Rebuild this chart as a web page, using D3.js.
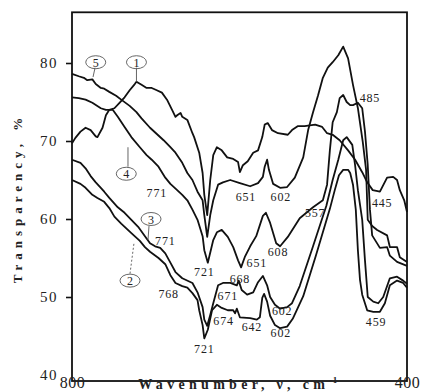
<!DOCTYPE html>
<html><head><meta charset="utf-8">
<script src="https://cdn.jsdelivr.net/npm/d3@7"></script>
<style>body{margin:0;background:#fff}svg{display:block}</style>
</head><body>
<svg id="c" width="426" height="392"></svg>
<script>
// ---- data: [wavenumber cm-1, transparency %] ----
const curve1 = [[800,69.7],[798,70.4],[795,71.2],[792,71.7],[789,71.4],[786,70.6],[785,70.5],[782,71.7],[780,73.3],[778,74.0],[775,74.2],[772,74.9],[769,75.6],[766,76.5],[763,77.3],[762,77.6],[759,77.2],[756,76.8],[753,76.8],[750,76.5],[747,76.2],[744,75.3],[741,74.0],[739,73.1],[738,73.3],[736,73.6],[735,73.1],[732,72.7],[729,71.0],[728,70.5],[725,68.5],[723,65.9],[722,63.1],[719,60.5],[714,65.0],[709,68.2],[703,69.2],[695,68.8],[686,67.9],[676,67.7],[668,67.3],[665,66.0],[660,66.9],[652,67.4],[643,68.5],[635,68.8],[628,70.5],[624,72.1],[619,72.3],[612,71.4],[602,71.0],[588,70.8],[582,71.4],[574,71.9],[564,71.9],[549,72.1],[539,71.8],[532,71.0],[524,70.8],[514,70.1],[502,68.8],[492,67.6],[481,66.0],[472,64.7],[462,63.7],[449,63.5],[436,65.3],[425,65.4],[418,65.0],[413,63.7],[405,62.4],[400,60.9]];
const curve2 = [[800,65.0],[795,64.5],[792,64.0],[788,63.1],[785,62.7],[781,62.2],[778,61.4],[775,60.3],[771,59.4],[765,58.2],[760,57.2],[757,56.4],[754,55.8],[749,55.0],[745,54.2],[742,52.8],[739,51.8],[735,51.4],[732,51.2],[729,50.5],[726,49.6],[725,48.3],[723,46.4],[722,44.7],[718,45.8],[711,48.3],[703,49.0],[695,48.6],[685,48.3],[676,48.3],[673,47.9],[670,48.5],[665,47.4],[648,47.3],[637,47.1],[632,47.4],[628,49.9],[625,50.4],[620,49.4],[615,47.6],[607,46.4],[599,46.0],[589,46.2],[581,47.2],[566,50.1],[548,55.3],[528,61.3],[521,63.7],[515,65.6],[509,66.3],[502,66.3],[499,65.9],[495,64.4],[491,61.2],[488,56.0],[485,52.2],[481,50.3],[472,48.3],[461,48.1],[449,48.1],[440,49.2],[431,51.5],[418,52.1],[407,51.8],[400,51.2]];
const curve3 = [[800,67.6],[795,67.2],[792,66.5],[789,65.5],[786,64.7],[783,64.0],[781,63.5],[778,62.7],[773,61.5],[769,60.8],[765,59.9],[761,59.0],[757,57.8],[754,56.9],[751,56.5],[748,56.3],[745,55.6],[742,54.4],[739,53.2],[735,52.4],[729,51.8],[726,50.6],[723,48.7],[722,47.1],[719,46.3],[714,47.7],[709,49.2],[701,51.5],[693,51.8],[681,51.8],[670,51.5],[667,52.1],[662,50.9],[653,50.3],[643,50.6],[635,51.9],[627,52.7],[620,51.5],[615,50.0],[607,49.0],[599,48.5],[589,48.7],[582,49.2],[571,51.4],[552,56.5],[533,61.7],[524,65.0],[516,67.6],[509,70.1],[504,70.5],[496,69.5],[492,66.9],[488,63.7],[481,59.9],[476,54.7],[471,50.0],[461,49.4],[452,49.2],[443,50.0],[431,52.4],[418,52.6],[407,52.1],[400,51.7]];
const curve4 = [[800,75.6],[796,75.5],[792,75.3],[788,74.9],[783,74.2],[780,74.0],[776,74.0],[773,73.1],[769,71.8],[765,70.5],[760,69.2],[756,68.2],[753,67.6],[749,66.7],[745,65.3],[742,64.5],[738,63.7],[735,63.1],[732,62.4],[729,61.2],[726,59.9],[723,57.8],[722,56.0],[718,54.4],[709,57.3],[703,58.3],[695,58.6],[685,57.7],[676,56.4],[668,54.7],[663,53.8],[657,55.1],[648,56.5],[638,57.8],[627,60.4],[622,60.8],[615,59.5],[605,56.9],[599,56.5],[588,57.7],[571,60.1],[552,61.5],[538,62.4],[532,64.4],[528,68.8],[524,72.4],[518,73.7],[514,75.5],[509,75.9],[504,75.0],[499,74.6],[495,74.6],[488,74.9],[481,74.2],[476,71.2],[471,66.9],[467,61.2],[463,57.9],[449,56.3],[436,56.4],[431,55.3],[418,54.5],[400,54.0]];
const curve5 = [[800,78.6],[796,78.3],[793,78.1],[791,77.8],[788,77.9],[786,77.3],[783,76.8],[781,76.7],[778,76.3],[774,75.8],[771,75.3],[766,74.5],[762,73.7],[759,72.9],[754,71.7],[750,70.9],[746,70.1],[742,69.2],[739,68.5],[735,67.2],[732,65.9],[729,65.0],[726,63.5],[723,62.4],[722,60.5],[719,57.7],[714,60.5],[709,62.4],[701,64.4],[693,64.7],[681,65.0],[665,64.6],[648,64.2],[635,64.6],[627,65.4],[624,66.7],[620,67.6],[617,66.3],[610,64.5],[599,64.0],[589,64.1],[578,65.3],[566,67.9],[559,71.4],[552,73.7],[545,75.8],[538,78.1],[531,79.4],[524,80.1],[516,81.0],[509,82.1],[502,80.6],[495,77.2],[488,74.2],[480,69.9],[474,66.3],[471,59.9],[463,59.1],[454,58.6],[436,57.9],[431,56.4],[418,56.4],[413,55.1],[400,54.5]];
const seriesNames = ["1","2","3","4","5"];

const yTicks = [80,70,60,50,40];
const xTicks = [800,400];
const yTitle = "Transparency, %";

// band labels: text, wavenumber, transparency
const bandLabels = [
  ["771",750,62.8],["771",745,56.7],["768",743,49.9],["721",722,52.7],["721",722,42.8],
  ["651",655,62.3],["602",598,62.3],["651",637,53.8],["668",665,51.8],["671",685,49.6],
  ["674",692,46.4],["642",645,45.6],["602",598,44.9],["602",596,47.7],["608",602,55.3],
  ["557",549,60.3],["485",467,75.0],["445",445,61.5],["459",456,46.3]
];
// curve number tags: number, tag centre (w,v), leader from (w,v) to (w,v), dashed
const curveTags = [
  ["5",786,80.1,786.4,79.4,787.6,78.2,false],
  ["1",762,80.1,762,79.4,762,77.6,false],
  ["4",768,65.8,767,66.7,767,69.2,false],
  ["3",753.4,60.0,754.6,59.1,755.2,57.3,false],
  ["2",765.8,52.1,765.8,53.0,763.4,57.0,true]
];

// ---- chart ----
const svg = d3.select("#c");
const x = d3.scaleLinear().domain([800,721,602,485,400]).range([72,206,278,360,407]);
const y = d3.scaleLinear().domain([40,80]).range([375,63]);
const vTop = 86.5, vBottom = 39.23;
const serif = "'Liberation Serif','Times New Roman',serif";

svg.append("rect").attr("x",x(800)).attr("y",y(vTop))
  .attr("width",x(400)-x(800)).attr("height",y(vBottom)-y(vTop))
  .attr("fill","none").attr("stroke","#111").attr("stroke-width",1.8);

const line = d3.line().x(d=>x(d[0])).y(d=>y(d[1]));
[curve1,curve2,curve3,curve4,curve5].forEach((c,i)=>{
  svg.append("path").datum(c).attr("d",line)
    .attr("fill","none").attr("stroke","#111").attr("stroke-width",1.8)
    .attr("stroke-linejoin","round").attr("class","s"+seriesNames[i]);
});

// y axis
const ya = svg.append("g").attr("transform",`translate(${x(800)},0)`)
  .call(d3.axisLeft(y).tickValues(yTicks).tickSize(6).tickPadding(8).tickFormat(d3.format("d")));
ya.select(".domain").remove();
ya.selectAll("line").attr("stroke","#111").attr("stroke-width",1.6)
  .filter(d=>d===40).remove();
ya.selectAll("text").attr("font-family",serif).attr("font-size",15)
  .attr("letter-spacing",1.5).attr("fill","#222");

// x axis labels
const xa = svg.append("g").attr("transform",`translate(0,${y(vBottom)})`)
  .call(d3.axisBottom(x).tickValues(xTicks).tickSize(0).tickFormat(d3.format("d")));
xa.select(".domain").remove();
xa.selectAll("text").attr("dy",null).attr("y",7).attr("font-family",serif)
  .attr("font-size",16).attr("letter-spacing",0.5).attr("fill","#222");

// titles
svg.append("text").attr("transform","translate(22,198) rotate(-90)")
  .attr("text-anchor","middle").attr("font-family",serif).attr("font-weight","bold")
  .attr("font-size",13).attr("letter-spacing",5).attr("fill","#222").text(yTitle);
const xt = svg.append("text").attr("x",238).attr("y",388.5).attr("text-anchor","middle")
  .attr("font-family",serif).attr("font-weight","bold").attr("font-size",14)
  .attr("letter-spacing",4.3).attr("fill","#222");
xt.append("tspan").text("Wavenumber, ν, cm");
xt.append("tspan").attr("dy",-6).attr("font-size",9).attr("letter-spacing",0.5).text("-1");

// band labels
svg.append("g").selectAll("text").data(bandLabels).join("text")
  .attr("x",d=>x(d[1])).attr("y",d=>y(d[2])).attr("text-anchor","middle")
  .attr("font-family",serif).attr("font-size",12).attr("letter-spacing",0.8)
  .attr("fill","#222").text(d=>d[0]);

// curve tags
const tg = svg.append("g").selectAll("g").data(curveTags).join("g");
tg.append("line").attr("x1",d=>x(d[3])).attr("y1",d=>y(d[4]))
  .attr("x2",d=>x(d[5])).attr("y2",d=>y(d[6]))
  .attr("stroke","#555").attr("stroke-width",0.9)
  .attr("stroke-dasharray",d=>d[7]?"2,2":null);
tg.append("ellipse").attr("cx",d=>x(d[1])).attr("cy",d=>y(d[2]))
  .attr("rx",10).attr("ry",6.5).attr("fill","none").attr("stroke","#555").attr("stroke-width",0.9);
tg.append("text").attr("x",d=>x(d[1])).attr("y",d=>y(d[2])+4.5).attr("text-anchor","middle")
  .attr("font-family",serif).attr("font-size",12).attr("fill","#222").text(d=>d[0]);
</script>
</body></html>
